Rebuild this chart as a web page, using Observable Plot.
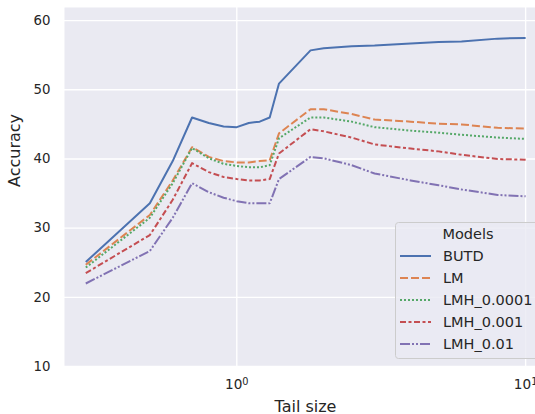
<!DOCTYPE html>
<html>
<head>
<meta charset="utf-8">
<script src="https://cdn.jsdelivr.net/npm/d3@7"></script>
<script src="https://cdn.jsdelivr.net/npm/@observablehq/plot@0.6"></script>
<style>
  html, body { margin: 0; padding: 0; background: #ffffff; overflow: hidden; }
  #wrap { position: relative; width: 535px; height: 414px; font-family: "DejaVu Sans", sans-serif; }
</style>
</head>
<body>
<div id="wrap"></div>
<script>
const tailSize = [0.3, 0.5, 0.6, 0.7, 0.8, 0.9, 1.0, 1.1, 1.2, 1.3, 1.4, 1.8, 2.0, 2.5, 3, 4, 5, 6, 8, 10];

const butd    = [25.1, 33.6, 39.7, 46.0, 45.2, 44.7, 44.6, 45.2, 45.4, 46.0, 50.9, 55.7, 56.0, 56.3, 56.4, 56.7, 56.9, 57.0, 57.4, 57.5];
const lm      = [24.7, 31.9, 36.9, 41.7, 40.3, 39.7, 39.5, 39.5, 39.7, 39.8, 43.7, 47.2, 47.2, 46.5, 45.7, 45.4, 45.1, 45.0, 44.5, 44.4];
const lmh0001 = [24.3, 31.5, 36.5, 41.6, 40.1, 39.3, 39.0, 38.8, 38.8, 39.1, 43.0, 46.0, 46.0, 45.4, 44.6, 44.1, 43.8, 43.5, 43.1, 42.9];
const lmh001  = [23.5, 29.0, 34.1, 39.4, 38.1, 37.4, 37.1, 36.9, 36.9, 37.1, 40.8, 44.3, 44.0, 43.1, 42.1, 41.5, 41.1, 40.6, 40.0, 39.9];
const lmh01   = [22.0, 26.7, 31.5, 36.5, 35.2, 34.4, 33.9, 33.6, 33.6, 33.6, 37.1, 40.3, 40.1, 39.1, 37.9, 36.9, 36.2, 35.6, 34.8, 34.6];

const modelNames = ["BUTD", "LM", "LMH_0.0001", "LMH_0.001", "LMH_0.01"];
const modelValues = [butd, lm, lmh0001, lmh001, lmh01];
const colors = ["#4C72B0", "#DD8452", "#55A868", "#C44E52", "#8172B3"];
const dashes = ["none", "8,3", "2,2", "6,2.5,3,2.5", "10,2,2,2,2,2"];

const yTicks = [10, 20, 30, 40, 50, 60];
const xTicks = [1, 10];
const xTickLabels = {1: "10^0", 10: "10^1"};

const rows = modelNames.flatMap((m, i) => tailSize.map((t, j) => ({model: m, tail: t, acc: modelValues[i][j]})));

const textColor = "#262626";

const chart = Plot.plot({
  width: 535,
  height: 414,
  marginLeft: 64,
  marginRight: 0,
  marginTop: 7,
  marginBottom: 48,
  style: {fontFamily: "DejaVu Sans, sans-serif", fontSize: "13.3px", color: textColor, background: "#ffffff"},
  x: {type: "log", domain: [0.2532, 10.82]},
  y: {domain: [10, 61.9]},
  marks: [
    Plot.frame({fill: "#EAEAF2", stroke: null}),
    Plot.gridX(xTicks, {stroke: "#ffffff", strokeOpacity: 1, strokeWidth: 1.4}),
    Plot.gridY(yTicks, {stroke: "#ffffff", strokeOpacity: 1, strokeWidth: 1.4}),
    ...modelNames.map((m, i) => Plot.line(rows.filter(d => d.model === m), {
      x: "tail", y: "acc", stroke: colors[i], strokeWidth: 2, strokeDasharray: dashes[i], strokeLinecap: "butt", strokeLinejoin: "round"
    })),
    Plot.axisY(yTicks, {tickSize: 0, tickPadding: 14, label: null, fill: textColor, fontSize: 13.3}),
    Plot.axisX(xTicks, {tickSize: 0, tickPadding: 13, label: null, tickFormat: d => xTickLabels[Math.round(d)], fill: textColor, fontSize: 13.6}),
    Plot.text(["Tail size"], {frameAnchor: "bottom", dx: 5.5, dy: 45, lineAnchor: "bottom", fontSize: 16, fill: textColor}),
    Plot.text(["Accuracy"], {frameAnchor: "left", dx: -50, rotate: -90, fontSize: 16, fill: textColor})
  ]
});

// turn "10^k" tick labels into real superscripts
chart.querySelectorAll("text").forEach(t => {
  const s = t.textContent;
  if (/^10\^\d$/.test(s) && t.children.length === 0) {
    const [base, exp] = s.split("^");
    t.textContent = base;
    const sup = document.createElementNS("http://www.w3.org/2000/svg", "tspan");
    sup.setAttribute("dy", "-0.45em");
    sup.setAttribute("font-size", "0.72em");
    sup.textContent = exp;
    t.appendChild(sup);
  }
});

const wrap = document.getElementById("wrap");
wrap.appendChild(chart);

// Legend
const ns = "http://www.w3.org/2000/svg";
const leg = document.createElementNS(ns, "svg");
leg.setAttribute("width", 145);
leg.setAttribute("height", 140);
leg.style.position = "absolute";
leg.style.left = "395px";
leg.style.top = "222px";
const box = document.createElementNS(ns, "rect");
box.setAttribute("x", 0.5); box.setAttribute("y", 0.5);
box.setAttribute("width", 160); box.setAttribute("height", 136);
box.setAttribute("rx", 3);
box.setAttribute("fill", "#EAEAF2"); box.setAttribute("fill-opacity", 0.8);
box.setAttribute("stroke", "#cccccc");
leg.appendChild(box);
const title = document.createElementNS(ns, "text");
title.setAttribute("x", 73); title.setAttribute("y", 12);
title.setAttribute("dy", "0.35em");
title.setAttribute("text-anchor", "middle");
title.setAttribute("font-size", "14.5");
title.setAttribute("fill", textColor);
title.setAttribute("font-family", "DejaVu Sans, sans-serif");
title.textContent = "Models";
leg.appendChild(title);
modelNames.forEach((m, i) => {
  const yy = 34 + i * 22;
  const ln = document.createElementNS(ns, "line");
  ln.setAttribute("x1", 5); ln.setAttribute("x2", 36);
  ln.setAttribute("y1", yy); ln.setAttribute("y2", yy);
  ln.setAttribute("stroke", colors[i]);
  ln.setAttribute("stroke-width", 2);
  if (dashes[i] !== "none") ln.setAttribute("stroke-dasharray", dashes[i]);
  leg.appendChild(ln);
  const tx = document.createElementNS(ns, "text");
  tx.setAttribute("x", 48); tx.setAttribute("y", yy);
  tx.setAttribute("dy", "0.35em");
  tx.setAttribute("font-size", "14.5");
  tx.setAttribute("fill", textColor);
  tx.setAttribute("font-family", "DejaVu Sans, sans-serif");
  tx.textContent = m;
  leg.appendChild(tx);
});
wrap.appendChild(leg);
</script>
</body>
</html>
